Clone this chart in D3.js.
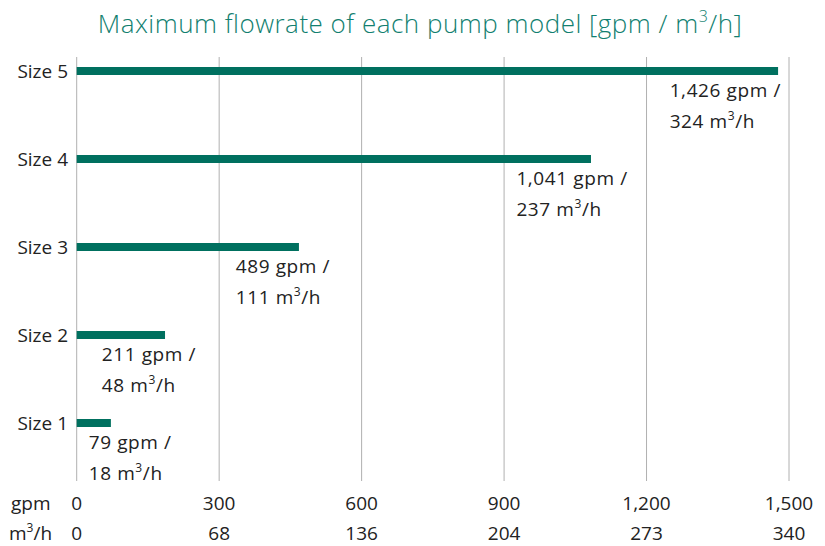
<!DOCTYPE html>
<html>
<head>
  <meta charset="UTF-8">
  <style>
    body { margin: 0; background: #fff; }
    svg text { font-family: "Open Sans", "Noto Sans", sans-serif; fill: #222; }
  </style>
</head>
<body>
<svg id="chart"></svg>

<script src="https://cdnjs.cloudflare.com/ajax/libs/d3/7.8.5/d3.min.js"></script>
<script>

// data
var sizes = ["Size 1", "Size 2", "Size 3", "Size 4", "Size 5"];
var barGpm = [72, 186, 468, 1083, 1477];          // drawn bar lengths
var labelGpm = ["79", "211", "489", "1,041", "1,426"];
var labelM3h = ["18", "48", "111", "237", "324"];
var gpmTicks = [0, 300, 600, 900, 1200, 1500];
var m3hTicks = ["0", "68", "136", "204", "273", "340"];

var width = 825, height = 546;
var svg = d3.select("#chart")
    .attr("width", width)
    .attr("height", height);

var x = d3.scaleLinear()
    .domain([0, 1500])
    .range([76.7, 789]);

var y = d3.scaleBand()
    .domain(sizes.slice().reverse())
    .range([27, 467]);

var barH = 8;

// title
svg.append("text")
    .attr("x", 420)
    .attr("y", 33)
    .attr("text-anchor", "middle")
    .attr("font-size", 26)
    .attr("font-weight", 300)
    .attr("letter-spacing", 0.5)
    .style("fill", "#127f70")
    .text("Maximum flowrate of each pump model [gpm / m")
    .append("tspan")
    .attr("font-size", 16)
    .attr("dy", -11)
    .text("3")
    .clone(true).attr("font-size", 26).attr("dy", 11).text("/h]");

// vertical grid
svg.append("g")
    .selectAll("line")
    .data(gpmTicks)
    .enter()
    .append("line")
    .attr("x1", d => x(d))
    .attr("x2", d => x(d))
    .attr("y1", 57)
    .attr("y2", 481)
    .attr("stroke", "#b0b0b0")
    .attr("stroke-width", 1);

// bars
svg.append("g")
    .selectAll("rect")
    .data(sizes)
    .enter()
    .append("rect")
    .attr("x", x(0))
    .attr("y", d => y(d) + y.bandwidth() / 2 - barH / 2)
    .attr("width", (d, i) => x(barGpm[i]) - x(0))
    .attr("height", barH)
    .attr("fill", "#00705f");

// category labels
svg.append("g")
    .selectAll("text")
    .data(sizes)
    .enter()
    .append("text")
    .attr("x", 68)
    .attr("y", d => y(d) + y.bandwidth() / 2 + 7)
    .attr("text-anchor", "end")
    .attr("font-size", 19)
    .text(d => d);

// value labels, two lines below each bar
var labels = svg.append("g")
    .selectAll("g")
    .data(sizes)
    .enter()
    .append("g");

labels.each(function(d, i) {
    var g = d3.select(this);
    var cy = y(d) + y.bandwidth() / 2;
    var t1 = g.append("text")
        .attr("y", cy + 26)
        .attr("font-size", 19)
        .attr("letter-spacing", 0.6)
        .text(labelGpm[i] + " gpm /");
    var t2 = g.append("text")
        .attr("y", cy + 57)
        .attr("font-size", 19)
        .attr("letter-spacing", 0.6)
        .text(labelM3h[i] + " m");
    t2.append("tspan").attr("font-size", 12).attr("dy", -8).text("3");
    t2.append("tspan").attr("dy", 8).text("/h");

    var w = t1.node().getComputedTextLength();
    var left = x(barGpm[i]) - 0.67 * w;
    left = Math.min(left, x(1500) - 8 - w);
    left = Math.max(left, x(0) + 12);
    t1.attr("x", left);
    t2.attr("x", left);
});

// axis rows
svg.append("text")
    .attr("x", 11)
    .attr("y", 510)
    .attr("font-size", 19)
    .text("gpm");

var unit = svg.append("text")
    .attr("x", 9)
    .attr("y", 540)
    .attr("font-size", 19)
    .text("m");
unit.append("tspan").attr("font-size", 12).attr("dy", -8).text("3");
unit.append("tspan").attr("dy", 8).text("/h");

svg.append("g")
    .selectAll("text")
    .data(gpmTicks)
    .enter()
    .append("text")
    .attr("x", d => x(d))
    .attr("y", 510)
    .attr("text-anchor", "middle")
    .attr("font-size", 19)
    .text(d => d3.format(",")(d));

svg.append("g")
    .selectAll("text")
    .data(m3hTicks)
    .enter()
    .append("text")
    .attr("x", (d, i) => x(gpmTicks[i]))
    .attr("y", 540)
    .attr("text-anchor", "middle")
    .attr("font-size", 19)
    .text(d => d);

</script>
</body>
</html>
